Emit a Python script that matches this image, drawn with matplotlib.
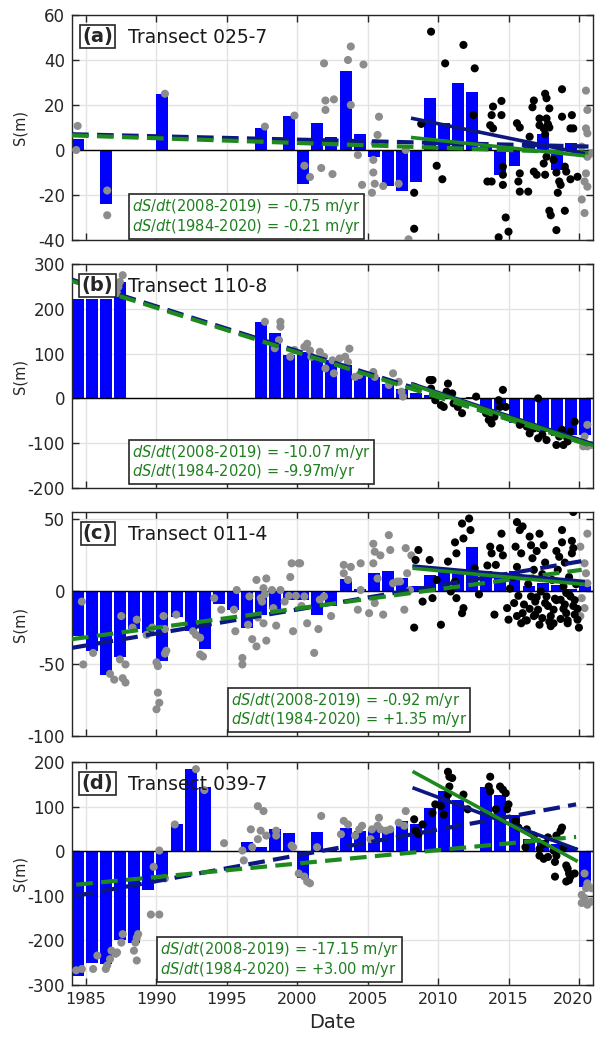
import numpy as np
import matplotlib
matplotlib.use("Agg")
import matplotlib.pyplot as plt
import matplotlib.transforms as mtransforms

plt.rcParams["font.family"] = ["DejaVu Sans"]
plt.rcParams["axes.unicode_minus"] = False
plt.rcParams["mathtext.fontset"] = "dejavusans"

# ---- data ----
years = list(range(1984, 2021))

# annual mean shoreline position S (m), one per year 1984..2020
bars_a = [5, 0, -24, 0, 0, 0, 25, 0, 0, 0, 0, 0, 0, 10, 0, 15, -15, 12, 6, 35, 7, -3,
          -16, -18, -14, 23, 12, 30, 26, 2, -11, -7, 3, 7, -9, 3, -2]
bars_b = [221, 221, 221, 259, 0, 0, 0, 0, 0, 0, 0, 0, 0, 171, 145, 97, 104, 93, 85, 74,
          52, 48, 33, 22, 11, 7, 4, 0, 4, -33, -26, -55, -59, -74, -85, -81, -81]
bars_c = [-31, -41, -58, -45, -26, -29, -48, -18, -27, -40, -9, -13, -25, -16, -12, -6,
          -6, -16, -10, 8.5, 2, 12.5, 14, 9, 3.5, 11.5, 14, 15, 31, 14, 12.5, 14, 3.5, 6,
          4.5, 2, 4]
bars_d = [-280, -251, -252, -200, -205, -88, -61, 60, 185, 145, 0, 0, 20, 10, 49, 40,
          -60, 42, 5, 53, 46, 49, 46, 68, 60, 97, 134, 115, 0, 145, 127, 82, 27, 24, 16,
          9, -80]

# individual surveys before 2008 / after 2019 (grey) and 2008-2019 (black)
grey_a_t = [1984.4, 1984.3, 1986.5, 1986.5, 1990.6, 1997.7, 1999.8, 2000.5, 2000.9, 2001.7,
            2001.9, 2002.5, 2002.0, 2002.6, 2002.0, 2003.8, 2003.6, 2004.7, 2003.8, 2004.3,
            2004.6, 2005.8, 2005.7, 2005.5, 2005.4, 2005.4, 2005.5, 2005.3, 2006.1, 2007.2,
            2007.7, 2007.9, 2020.5, 2020.6, 2020.5, 2020.6, 2020.2, 2020.6, 2020.5, 2020.4,
            2020.6, 2020.2, 2020.4, 2020.9]
grey_a_s = [10.7, 0, -18, -29, 25, 10.4, 15.3, -7, -12, -8, 38.5, -10.7, 22, 22.5, 17.8, 46,
            40, 38, 20, -2.2, -15.5, 14.8, 6.7, 3, -4.4, -10, -15, -19, -16, -15, 0, -39.7,
            26.4, 17.8, 9.6, 7.4, 1.5, -3, -10.4, -14, -16.3, -22, -28, -1.5]
black_a_t = [2009.5, 2011.8, 2010.5, 2012.6, 2008.8, 2012.5, 2009.9, 2010.3, 2008.3, 2008.3,
             2013.9, 2014.5, 2014.5, 2013.7, 2013.8, 2013.9, 2013.5, 2013.8, 2014.6, 2014.6,
             2014.6, 2014.8, 2014.3, 2015.0, 2015.6, 2015.8, 2015.8, 2015.7, 2015.8, 2016.4,
             2016.5, 2016.8, 2016.7, 2017.6, 2017.7, 2017.9, 2017.2, 2017.7, 2017.8, 2017.2,
             2017.5, 2017.6, 2017.9, 2018.8, 2017.7, 2017.5, 2016.8, 2017.0, 2017.6, 2018.2,
             2018.4, 2018.6, 2018.7, 2018.5, 2017.9, 2018.0, 2019.0, 2018.4, 2018.8, 2019.5,
             2019.4, 2019.6, 2019.0, 2019.1, 2019.4, 2019.9]
black_a_s = [52.6, 46.7, 38.5, 36.3, 11.6, 15.5, -7, -13, -19, -35, 19.3, 21.8, 15.5, 11, 15.5,
             9.6, -14, -14, -7.4, -11, -15.5, -30, -38.8, -36.3, 11.9, 10, -10.4, -14, -18.5,
             -18.5, 5.9, 22, 19, 25, 23, 18.5, 14, 14, 11.5, 11, 9.6, 7, 10, 27, -3, -6, -9.6,
             -11, -11, -4.4, -10, -14, -15.5, -19, -27, -29, -27, -35.6, 14.8, 15.5, 9.6, 9.6,
             -7.4, -9.6, -13, -11.9]

grey_b_t = [1987.6, 1987.4, 1987.3, 1987.2, 1997.7, 1998.8, 1998.8, 1998.7, 1998.4, 1999.5,
            1999.8, 2000.5, 2000.7, 2000.9, 2001.0, 2001.6, 2001.9, 2002.0, 2002.5, 2002.6,
            2003.0, 2003.4, 2003.7, 2003.6, 2004.1, 2004.4, 2005.4, 2005.5, 2006.5, 2006.8,
            2007.2, 2007.4, 2007.5, 2020.6, 2020.4, 2020.3, 2020.6, 2020.9]
grey_b_s = [275, 260, 249, 235, 171, 171, 160, 130, 112, 93, 108, 115, 122, 107, 93, 104, 93,
            67, 85, 56, 89, 93, 111, 81, 48, 52, 59, 48, 30, 56, 37, 15, 4, -59, -85, -107,
            -107, -104]
black_b_t = [2008.3, 2009.4, 2009.6, 2010.7, 2009.5, 2009.8, 2010.2, 2010.4, 2011.0, 2010.6,
             2011.1, 2011.4, 2011.7, 2012.7, 2013.4, 2013.6, 2013.8, 2014.0, 2014.3, 2014.6,
             2014.4, 2014.8, 2015.8, 2016.3, 2016.8, 2016.5, 2017.1, 2017.1, 2017.4, 2017.7,
             2018.4, 2018.9, 2019.1, 2019.4, 2019.7, 2019.2, 2018.6, 2018.8]
black_b_s = [26, 41, 41, 33, 22, -4, -15, -19, 11, 15, -11, -19, -33, 4, -33, -48, -56, -41,
             -4, 19, -19, -19, -59, -63, -67, -78, 0, -89, -81, -93, -104, -104, -85, -74, -52,
             -96, -85, -70]

grey_c_t = [1984.7, 1984.8, 1985.5, 1986.7, 1987.0, 1987.8, 1987.6, 1987.4, 1987.8, 1987.5,
            1988.6, 1988.3, 1989.3, 1989.7, 1990.0, 1990.1, 1990.1, 1990.2, 1990.0, 1990.5,
            1990.6, 1990.7, 1990.6, 1991.4, 1992.6, 1992.8, 1993.1, 1993.1, 1993.3, 1994.1,
            1994.6, 1995.5, 1995.6, 1995.7, 1996.1, 1996.1, 1996.6, 1996.5, 1997.1, 1997.8,
            1997.4, 1997.5, 1997.6, 1997.7, 1997.2, 1996.8, 1997.1, 1997.6, 1997.8, 1998.2,
            1998.8, 1998.3, 1998.5, 1999.1, 1999.6, 1999.5, 1999.7, 1999.4, 2000.1, 1999.9,
            2000.2, 2000.5, 2000.3, 2000.7, 2001.5, 2001.2, 2001.6, 2001.9, 2002.4, 2003.3,
            2003.8, 2004.5, 2003.3, 2003.6, 2004.3, 2004.5, 2005.1, 2005.5, 2005.4, 2005.5,
            2005.9, 2005.4, 2005.7, 2006.1, 2006.5, 2006.6, 2007.1, 2007.3, 2006.8, 2007.7,
            2007.8, 2007.6, 2008.1, 2008.0, 2020.6, 2020.1, 2020.4, 2020.5, 2020.6, 2020.2,
            2020.4, 2020.1]
grey_c_s = [-7, -50.5, -42.5, -57, -61, -63, -60, -47, -50.5, -17, -19.5, -25, -30, -25, -49,
            -51.6, -70, -77, -81.5, -17, -26, -41, -43, -16, -27.5, -30, -32, -43.6, -45, -4.6,
            -12.6, -12.6, -27.5, 1, -46, -50.5, -3.4, -23, 8, 9, -4.6, -7, 2.3, -2, -18, -33,
            -38, -22, -34, 1, 1, -11.5, -23.6, -7, 19.5, 10, -27.5, -3, 19.5, -3,
            19.5, -3.4, -10, -22, -26, -42.5, -5.7, -3.4, -17, 18.4, 17, 19.5, 12.6, 8, -12.6,
            1, -15, -8, 33, 27.5, 25, 19.5, 9, -16, 39, 28.7, 6.9, 6.9, 5.7, 30, 12.6, -12.6,
            25, 1, 40, 31, 19.5, 12.6, 5.7, -4.6, -11.5, -17]
black_c_t = [2008.6, 2008.4, 2008.3, 2009.4, 2008.9, 2009.6, 2010.2, 2009.9, 2011.2, 2011.7,
             2012.2, 2012.3, 2011.8, 2011.3, 2010.7, 2011.2, 2011.3, 2011.8, 2011.7, 2012.6,
             2013.7, 2013.8, 2014.5, 2014.6, 2014.1, 2014.0, 2014.9, 2015.0, 2015.6, 2015.8,
             2015.5, 2015.9, 2015.6, 2016.0, 2015.9, 2016.5, 2016.6, 2016.7, 2016.6, 2016.9,
             2017.1, 2017.2, 2017.4, 2017.5, 2017.7, 2017.8, 2018.0, 2018.2, 2018.2, 2018.6,
             2018.8, 2018.8, 2018.7, 2018.9, 2019.0, 2019.1, 2019.5, 2019.4, 2019.6, 2019.7,
             2019.6, 2020.0, 2019.9, 2019.2, 2016.3, 2016.8, 2017.0, 2017.6, 2018.4, 2019.3,
             2015.4, 2015.6, 2015.3, 2016.0, 2016.2, 2016.4, 2016.8, 2016.9, 2017.0, 2017.3,
             2017.6, 2017.9, 2018.1, 2018.3, 2018.5, 2018.9, 2019.0, 2019.2, 2019.3, 2019.5,
             2019.7, 2019.8, 2019.9, 2015.1, 2014.4, 2013.5, 2012.9, 2010.9, 2018.0, 2017.2,
             2016.5, 2019.1, 2018.7, 2017.4, 2018.4, 2019.6, 2016.1, 2015.7]
black_c_s = [28.7, 21.8, -25, 21.8, -7, -4.6, -23, 8, 34, 47, 50.5, 42.5, 36.7, 26.4, 20.7,
             6.9, -4.6, -11.5, -15, 16, 31, 26.4, 40, 25, 18.4, -16, -11.5, -19.5, 48, 42.5,
             31, 26.4, 17, -15, -22, 38, 32, 23, -3.4, -7, -12.6, -23, -18.4, 32, -3.4, -10,
             -17, -12.6, -22, 24, 42.5, 34, -5.7, 3.4, -9, -15, 26.4, -3.4, -10, -16, 55, -25,
             -19.5, -20, -20, -17, -4, -8, -6, -2,
             -8, -17, 10, 45, -20, 5, 15, -16, 28, 0, 20, -21, 8, -5, 15, -12, 20, -22, 10, 35,
             -6, 5, -12, 2, 30, 18, -2, 0, -24, 40, -12, -1, -19, 12, 28, 30, -9, -3]

grey_d_t = [1984.3, 1984.7, 1985.5, 1985.8, 1986.4, 1986.5, 1986.7, 1986.8, 1987.1, 1987.2,
            1987.5, 1987.6, 1988.4, 1988.5, 1988.6, 1988.6, 1988.7, 1989.6, 1990.2, 1989.8,
            1990.2, 1990.6, 1991.3, 1992.8, 1993.4, 1994.8, 1996.1, 1996.2, 1996.7, 1996.8,
            1997.2, 1997.6, 1997.4, 1997.2, 1997.8, 1998.5, 1998.5, 1999.6, 1999.7, 2000.1,
            2000.5, 2000.7, 2000.9, 2001.4, 2001.7, 2003.3, 2003.6, 2003.1, 2004.1, 2004.4,
            2004.6, 2005.2, 2005.3, 2005.7, 2005.8, 2005.9, 2006.3, 2006.6, 2007.2, 2007.6,
            2007.7, 2020.4, 2020.6, 2020.5, 2020.9, 2020.2, 2020.2, 2020.6, 2020.9, 2020.4]
grey_d_s = [-267, -264, -264, -234, -264, -256, -242, -223, -230, -227, -205, -186, -223,
            -205, -194, -245, -186, -142, -142, -35, 1.5, -61, 60, 184, 137, 18, 1.5, -20.6,
            49, 9, 101, 90, 46, 27, 35, 35, 46, 12.5, 9, -50, -57, -68, -72, 9, 79, 68, 60, 38,
            35, 49, 57, 27, 49, 57, 75, 49, 46, 49, 64, 57, 90, -50, -72, -83, -83, -98, -116,
            -120, -113, -105]
black_d_t = [2008.3, 2008.4, 2008.6, 2008.9, 2009.6, 2009.8, 2010.7, 2010.8, 2010.8, 2010.7,
             2010.4, 2010.2, 2011.8, 2011.0, 2012.1, 2013.7, 2013.6, 2013.7, 2014.4, 2014.6,
             2014.8, 2014.1, 2015.0, 2014.9, 2015.5, 2015.7, 2016.3, 2016.2, 2016.8, 2017.2,
             2017.5, 2017.8, 2017.2, 2017.5, 2017.8, 2018.4, 2018.3, 2018.3, 2018.7, 2018.8,
             2018.4, 2019.1, 2019.2, 2019.3, 2019.4, 2019.1, 2019.3, 2019.7, 2018.9, 2018.2]
black_d_s = [71.5, 46, 38, 60, 86, 105, 178, 167, 145, 127, 82, 101, 127, 164, 94, 167, 145,
             134, 145, 138, 130, 94, 105, 94, 68, 53, 49, 9, 35, 5, 16, 31, -10, -17, -13, -10,
             -24, -57, 46, 53, 35, -32, -39, -50, -57, -68, -65, -50, 9, 1.5]

# fitted trend lines: ([t0, t1], [S0, S1])
trend_a = {"full_navy": ([1984, 2021], [7.0, 1.5]), "full_green": ([1984, 2021], [6.5, -1.3]),
           "recent_navy": ([2008.2, 2020.3], [14, -1.5]), "recent_green": ([2008.2, 2020.3], [5.5, -2.5])}
trend_b = {"full_navy": ([1984, 2021], [265, -103]), "full_green": ([1984, 2021], [262, -107]),
           "recent_navy": ([2008.2, 2021], [32, -102]), "recent_green": ([2008.2, 2021], [30, -105])}
trend_c = {"full_navy": ([1984, 2020.2], [-39, 21]), "full_green": ([1984, 2020.2], [-33, 15]),
           "recent_navy": ([2008.3, 2020.3], [17.5, 7]), "recent_green": ([2008.3, 2020.3], [16, 5])}
trend_d = {"full_navy": ([1984.3, 2019.8], [-100, 105]), "full_green": ([1984.3, 2019.8], [-75, 32]),
           "recent_navy": ([2008.3, 2019.8], [141, 5]), "recent_green": ([2008.3, 2019.8], [177, -21])}

labels = ["(a)", "(b)", "(c)", "(d)"]
transects = ["Transect 025-7", "Transect 110-8", "Transect 011-4", "Transect 039-7"]
rates = [("-0.75 m/yr", "-0.21 m/yr"), ("-10.07 m/yr", "-9.97m/yr"),
         ("-0.92 m/yr", "+1.35 m/yr"), ("-17.15 m/yr", "+3.00 m/yr")]

BLUE = "#0000ff"
NAVY = "#0c1880"
GREEN = "#1e8a1e"
TXTGREEN = "#1f7f1f"
GREY = "#8c8c8c"


def draw_panel(ax, bars, gt, gs, bt, bs, trend, ylim, yticks, lab, tr, rate, box_x):
    ax.bar(years, bars, width=0.85, align="edge", color=BLUE, zorder=2)
    ax.axhline(0, color="k", lw=1.0, zorder=2.5)
    ax.scatter(gt, gs, s=34, color=GREY, edgecolors="none", zorder=3)
    ax.scatter(bt, bs, s=34, color="k", edgecolors="none", zorder=3)
    ax.plot(*trend["full_navy"], color=NAVY, lw=3, dashes=(4, 2), zorder=4)
    ax.plot(*trend["full_green"], color=GREEN, lw=3, dashes=(4, 2), zorder=4.2)
    ax.plot(*trend["recent_navy"], color=NAVY, lw=2.6, zorder=4.4)
    ax.plot(*trend["recent_green"], color=GREEN, lw=2.6, zorder=4.6)

    ax.set_xlim(1984, 2021)
    ax.set_ylim(*ylim)
    ax.set_xticks(range(1985, 2021, 5))
    ax.set_yticks(yticks)
    ax.grid(True, color="#e3e3e3", lw=1.0)
    ax.set_axisbelow(True)
    ax.tick_params(direction="in", length=5, width=1, top=True, right=True,
                   labelsize=12, colors="#262626", pad=5)
    for sp in ax.spines.values():
        sp.set_color("#262626")
        sp.set_linewidth(1.0)
    ax.set_ylabel("S(m)", fontsize=10.5, color="#262626")
    ax.yaxis.set_label_coords(-0.085, 0.5)

    ax.text(0.049, 0.904, lab, transform=ax.transAxes, fontsize=14, fontweight="bold",
            ha="center", va="center", color="#262626", zorder=6,
            bbox=dict(boxstyle="square,pad=0.12", fc="white", ec="#262626", lw=1.2))
    ax.text(0.1075, 0.876, tr, transform=ax.transAxes, fontsize=13.5, ha="left",
            va="baseline", color="#1a1a1a", zorder=6)
    txt = (r"$\mathit{dS/dt}$(2008-2019) = " + rate[0] + "\n"
           r"$\mathit{dS/dt}$(1984-2020) = " + rate[1])
    ax.text(box_x[0], box_x[1], txt, transform=ax.transAxes, fontsize=10.5,
            ha="left", va="bottom", color=TXTGREEN, linespacing=1.05, zorder=6,
            bbox=dict(boxstyle="square,pad=0.2", fc="white", ec="#262626", lw=1.2))


fig = plt.figure(figsize=(5.97, 10.41), dpi=100)
W, H = 597.0, 1041.0
left, right = 72 / W, 593 / W
panels = [(15, 240), (264, 488), (512, 736), (762, 985)]
axes = [fig.add_axes([left, 1 - b / H, right - left, (b - t) / H]) for t, b in panels]

draw_panel(axes[0], bars_a, grey_a_t, grey_a_s, black_a_t, black_a_s, trend_a,
           (-40, 60), range(-40, 61, 20), labels[0], transects[0], rates[0], (0.115, 0.018))
draw_panel(axes[1], bars_b, grey_b_t, grey_b_s, black_b_t, black_b_s, trend_b,
           (-200, 300), range(-200, 301, 100), labels[1], transects[1], rates[1], (0.115, 0.03))
draw_panel(axes[2], bars_c, grey_c_t, grey_c_s, black_c_t, black_c_s, trend_c,
           (-100, 55), [-100, -50, 0, 50], labels[2], transects[2], rates[2], (0.305, 0.03))
draw_panel(axes[3], bars_d, grey_d_t, grey_d_s, black_d_t, black_d_s, trend_d,
           (-300, 200), range(-300, 201, 100), labels[3], transects[3], rates[3], (0.169, 0.027))

for ax in axes[:3]:
    ax.tick_params(labelbottom=False)
axes[3].tick_params(axis="x", labelsize=11.5)
axes[3].set_xlabel("Date", fontsize=14, color="#262626", labelpad=4)

# nudge the last year label so it stays inside the figure
last = axes[3].get_xticklabels()[-1]
last.set_transform(last.get_transform() +
                   mtransforms.ScaledTranslation(-4 / 72, 0, fig.dpi_scale_trans))

fig.savefig("out.png", dpi=100)
